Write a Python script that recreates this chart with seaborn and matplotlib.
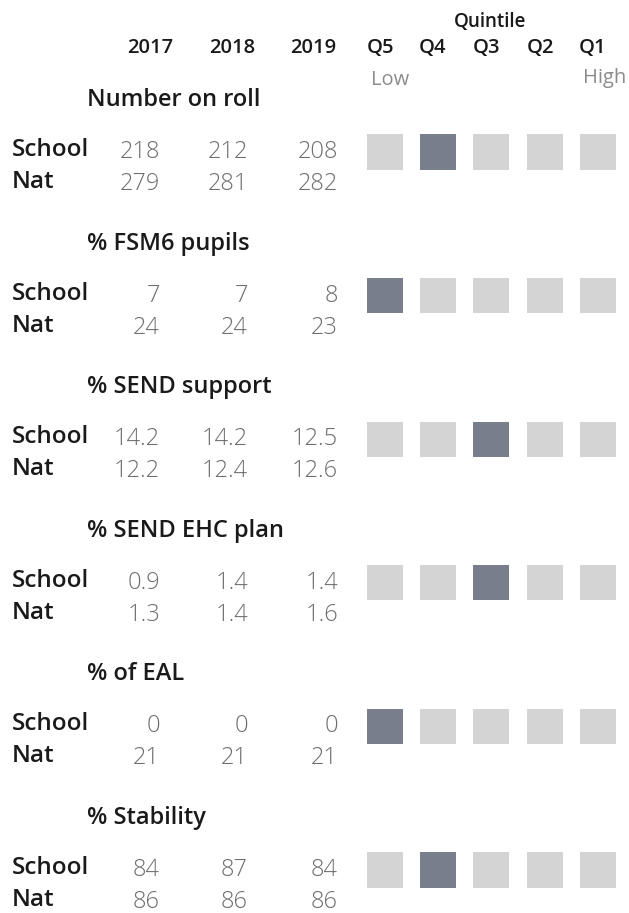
import matplotlib
matplotlib.use("Agg")
import matplotlib.pyplot as plt
import seaborn as sns
import pandas as pd

# ---- data ----
metrics = ["Number on roll", "% FSM6 pupils", "% SEND support",
           "% SEND EHC plan", "% of EAL", "% Stability"]
years = ["2017", "2018", "2019"]
quintiles = ["Q5", "Q4", "Q3", "Q2", "Q1"]
school_vals = [[218, 212, 208], [7, 7, 8], [14.2, 14.2, 12.5],
               [0.9, 1.4, 1.4], [0, 0, 0], [84, 87, 84]]
nat_vals = [[279, 281, 282], [24, 24, 23], [12.2, 12.4, 12.6],
            [1.3, 1.4, 1.6], [21, 21, 21], [86, 86, 86]]
decimals = [0, 0, 1, 1, 0, 0]
school_quintile = ["Q4", "Q5", "Q3", "Q3", "Q5", "Q4"]

# ---- layout (pixels) ----
W, H = 629, 913
title_y0, step = 100, 143.6
school_off, nat_off = 52, 84
year_x = [150, 232, 313]
val_right = [160, 248, 338]
q_x = [385, 438, 491, 545, 598]

sns.set_theme(style="white")
plt.rcParams['font.family'] = ['Open Sans', 'DejaVu Sans']

fig = plt.figure(figsize=(W / 100, H / 100), dpi=100)
ax = fig.add_axes([0, 0, 1, 1])
ax.set_xlim(0, W)
ax.set_ylim(H, 0)
ax.axis("off")

dark = "#1a1a1a"
grey = "#6e6e6e"
head = dict(fontweight="semibold", color=dark)
light = dict(fontweight="light", color=grey)

# headers
ax.text(490, 22, "Quintile", ha="center", va="center", fontsize=13.5, **head)
for x, yr in zip(year_x, years):
    ax.text(x, 48, yr, ha="center", va="center", fontsize=14.5, **head)
for x, q in zip(q_x, quintiles):
    ax.text(x - 5, 48, q, ha="center", va="center", fontsize=14.5, **head)
ax.text(390, 80, "Low", ha="center", va="center", fontsize=14.5, color="#8c8c8c")
ax.text(605, 78, "High", ha="center", va="center", fontsize=14.5, color="#8c8c8c")

# squares
rows = []
for i, sq in enumerate(school_quintile):
    for j, q in enumerate(quintiles):
        rows.append({"x": q_x[j], "y": title_y0 + i * step + school_off,
                     "hit": "yes" if q == sq else "no"})
sq_df = pd.DataFrame(rows)
sns.scatterplot(data=sq_df, x="x", y="y", hue="hit", marker="s", s=640,
                palette={"yes": "#787e8b", "no": "#d4d4d4"},
                linewidth=0, legend=False, ax=ax)
ax.set_xlim(0, W)
ax.set_ylim(H, 0)

# sections
for i, m in enumerate(metrics):
    ty = title_y0 + i * step
    ax.text(87, ty, m, ha="left", va="center", fontsize=17, **head)
    for label, vals, off in (("School", school_vals[i], school_off),
                             ("Nat", nat_vals[i], nat_off)):
        ax.text(12, ty + off - 2, label, ha="left", va="center", fontsize=17.5,
                **head)
        for x, v in zip(val_right, vals):
            ax.text(x, ty + off, f"{v:.{decimals[i]}f}", ha="right",
                    va="center", fontsize=17, **light)

fig.savefig("out.png", dpi=100)
